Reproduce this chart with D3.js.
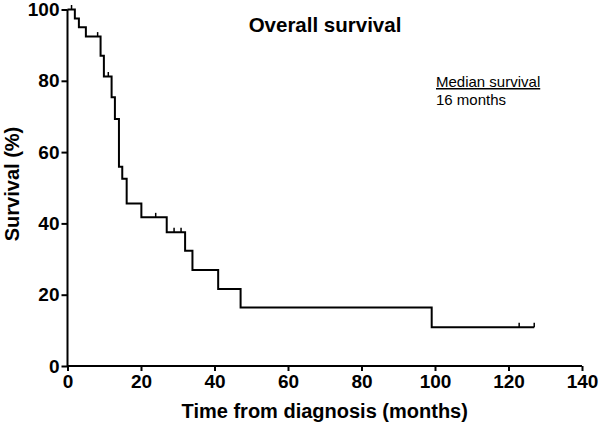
<!DOCTYPE html>
<html><head><meta charset="utf-8">
<script src="https://cdn.jsdelivr.net/npm/d3@7"></script>
<style>body{margin:0;background:#fff}svg{display:block}text{font-family:"Liberation Sans",Arial,sans-serif}</style>
</head><body>
<svg id="c" width="600" height="426"></svg>
<script>
// Kaplan-Meier step data (event times in months, survival %)
const eventTimes = [0, 2.0, 3.1, 5.0, 9.0, 9.9, 12.0, 12.9, 14.0, 14.9, 16.1, 20.1, 27.0, 32.0, 34.0, 41.0, 47.1, 99.1];
const survival   = [100, 97.5, 95.0, 92.4, 87.0, 81.2, 75.4, 69.3, 55.9, 52.5, 45.6, 41.7, 37.5, 32.3, 26.9, 21.6, 16.4, 10.9];
const lastFollowUp = 127.0;
const censoredTimes = [1.1, 8.2, 11.1, 24.0, 29.0, 30.9, 122.9, 127.0];
const xTicks = [0, 20, 40, 60, 80, 100, 120, 140];
const yTicks = [0, 20, 40, 60, 80, 100];

const svg = d3.select("#c");
const x = d3.scaleLinear().domain([0, 140]).range([67.5, 582]);
const y = d3.scaleLinear().domain([0, 100]).range([366, 9.5]);

function sAt(t){ let s = survival[0]; for(let i=0;i<eventTimes.length;i++){ if(eventTimes[i] <= t) s = survival[i]; } return s; }

// axes
const xAxis = svg.append("g").attr("transform","translate(0,366)")
  .call(d3.axisBottom(x).tickValues(xTicks).tickSize(5).tickPadding(4).tickFormat(d3.format("d")));
const yAxis = svg.append("g").attr("transform","translate(67.5,0)")
  .call(d3.axisLeft(y).tickValues(yTicks).tickSize(6).tickPadding(2).tickFormat(d3.format("d")));
[xAxis, yAxis].forEach(g=>{
  g.select(".domain").attr("stroke","#000").attr("stroke-width",2);
  g.selectAll(".tick line").attr("stroke","#000").attr("stroke-width",2);
  g.selectAll(".tick text").attr("fill","#000").style("font-size","19px").style("font-weight","bold")
   .style("font-family",'"Liberation Sans",Arial,sans-serif');
});
xAxis.select(".domain").attr("d", `M${x(0)},0H${x(140)}`);
yAxis.select(".domain").attr("d", `M0,${y(0)}V${y(100)}`);

// step curve
const pts = eventTimes.map((t,i)=>[t, survival[i]]);
pts.push([lastFollowUp, survival[survival.length-1]]);
const line = d3.line().x(d=>x(d[0])).y(d=>y(d[1])).curve(d3.curveStepAfter);
svg.append("path").attr("d", line(pts)).attr("fill","none").attr("stroke","#000").attr("stroke-width",2);

// censor marks
svg.selectAll(".cens").data(censoredTimes).join("line")
  .attr("x1", d=>x(d)).attr("x2", d=>x(d))
  .attr("y1", d=>y(sAt(d))).attr("y2", d=>y(sAt(d))-4.5)
  .attr("stroke","#000").attr("stroke-width",1.5);

// titles
svg.append("text").attr("x",325).attr("y",32).attr("text-anchor","middle")
  .style("font-size","20.5px").style("font-weight","bold").text("Overall survival");
svg.append("text").attr("x",(x(0)+x(140))/2 ).attr("y",418).attr("text-anchor","middle")
  .style("font-size","20px").style("font-weight","bold").text("Time from diagnosis (months)");
svg.append("text").attr("transform","translate(19,184) rotate(-90)").attr("text-anchor","middle")
  .style("font-size","20px").style("font-weight","bold").text("Survival (%)");

// annotation
svg.append("text").attr("x",436).attr("y",87).style("font-size","15px")
  .style("text-decoration","underline").text("Median survival");
svg.append("text").attr("x",436).attr("y",105).style("font-size","15px").text("16 months");
</script>
</body></html>
